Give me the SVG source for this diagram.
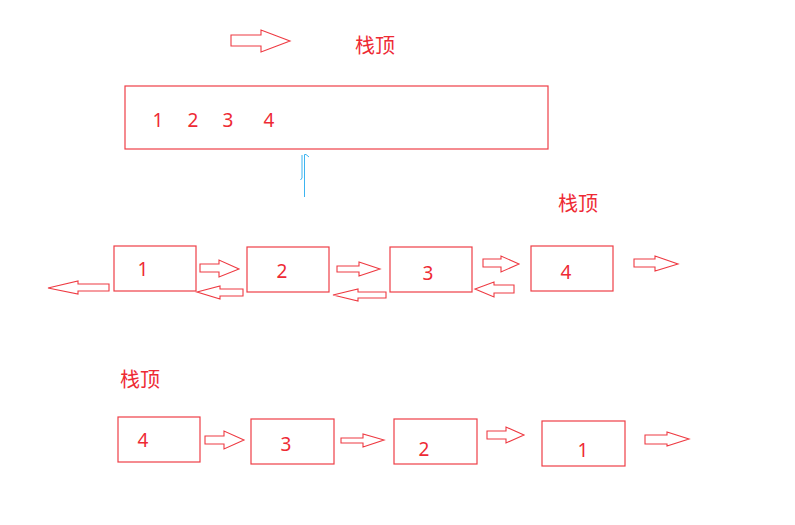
<svg xmlns="http://www.w3.org/2000/svg" width="795" height="525" viewBox="0 0 795 525">
<style>
.box{fill:#fff;stroke:#ef3e46;stroke-width:1.2}
.arr{fill:#fff;stroke:#ee3a42;stroke-width:1.1;stroke-linejoin:miter}
.t{font-family:"Noto Sans CJK SC","Microsoft YaHei",sans-serif;font-size:20px;fill:#ee2a34}
.n{font-family:"Noto Sans","Microsoft YaHei",sans-serif;font-size:19px;fill:#ee2a34;text-anchor:middle}
</style>
<rect width="795" height="525" fill="#fff"/>
<g id="connectors">
<polygon class="arr" points="231,35 261,35 261,30 290,41 261,52 261,46 231,46"/>
<polygon class="arr" points="200,264 219,264 219,260 239,269 219,277 219,272 200,272"/>
<polygon class="arr" points="337,266 359,266 359,262 380,269 359,276 359,272 337,272"/>
<polygon class="arr" points="483,259 501,259 501,256 519,264 501,272 501,267 483,267"/>
<polygon class="arr" points="634,259 655,259 655,256 678,264 655,271 655,267 634,267"/>
<polygon class="arr" points="109,284 78,284 78,281 48,288 78,294 78,291 109,291"/>
<polygon class="arr" points="243,289 220,289 220,286 197,292 220,299 220,296 243,296"/>
<polygon class="arr" points="386,292 358,292 358,289 333,295 358,301 358,298 386,298"/>
<polygon class="arr" points="514,285 494,285 494,282 475,289 494,297 494,293 514,293"/>
<polygon class="arr" points="205,436 224,436 224,431 244,440 224,449 224,444 205,444"/>
<polygon class="arr" points="341,438 363,438 363,434 384,440 363,447 363,443 341,443"/>
<polygon class="arr" points="487,431 506,431 506,427 524,435 506,443 506,439 487,439"/>
<polygon class="arr" points="645,435 667,435 667,432 689,439 667,446 667,444 645,444"/>
</g>
<g id="top-label"><text class="t" x="355" y="53">栈顶</text></g>
<g id="array">
<rect class="box" x="125" y="86" width="423" height="63"/>
<text class="n" x="158" y="127">1</text>
<text class="n" x="193" y="127">2</text>
<text class="n" x="228" y="127">3</text>
<text class="n" x="269" y="127">4</text>
</g>
<g id="cursor" fill="none" stroke="#3cb4f0" stroke-width="1">
<path d="M304.5,197 V154.5 H306 L309,157"/>
<path d="M302,155 V178 L300.5,180"/>
</g>
<g id="mid-label"><text class="t" x="558" y="211">栈顶</text></g>
<g id="m1"><rect class="box" x="114" y="246" width="82" height="45"/><text class="n" x="143" y="276">1</text></g>
<g id="m2"><rect class="box" x="247" y="247" width="82" height="45"/><text class="n" x="282" y="278">2</text></g>
<g id="m3"><rect class="box" x="390" y="247" width="82" height="45"/><text class="n" x="428" y="280">3</text></g>
<g id="m4"><rect class="box" x="531" y="246" width="82" height="45"/><text class="n" x="566" y="279">4</text></g>
<g id="bot-label"><text class="t" x="120" y="387">栈顶</text></g>
<g id="b4"><rect class="box" x="118" y="417" width="82" height="45"/><text class="n" x="143" y="447">4</text></g>
<g id="b3"><rect class="box" x="251" y="419" width="83" height="45"/><text class="n" x="286" y="451">3</text></g>
<g id="b2"><rect class="box" x="394" y="419" width="83" height="45"/><text class="n" x="424" y="456">2</text></g>
<g id="b1"><rect class="box" x="542" y="421" width="83" height="45"/><text class="n" x="583" y="457">1</text></g>
</svg>
